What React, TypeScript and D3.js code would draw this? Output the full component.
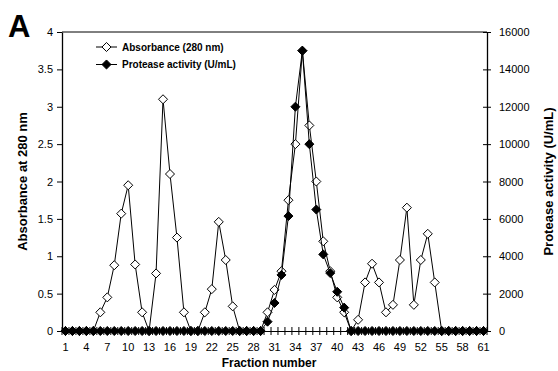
import React, { useEffect, useRef } from "react";
import * as d3 from "d3";

const fractions = d3.range(1, 62);

// absorbance at 280 nm, fractions 1..61
const absorbance = [
  0, 0, 0, 0, 0, 0.25, 0.45, 0.88, 1.57, 1.95,
  0.89, 0.25, 0, 0.77, 3.1, 2.1, 1.25, 0.25, 0, 0,
  0.25, 0.56, 1.46, 0.95, 0.33, 0, 0, 0, 0, 0.25,
  0.55, 0.8, 1.75, 2.5, 3.75, 2.75, 2.0, 1.2, 0.8, 0.45,
  0.25, 0, 0.15, 0.65, 0.9, 0.65, 0.25, 0.35, 0.95, 1.65,
  0.35, 0.95, 1.3, 0.65, 0, 0, 0, 0, 0, 0,
  0,
];

// protease activity (U/mL), fractions 1..61
const protease = [
  0, 0, 0, 0, 0, 0, 0, 0, 0, 0,
  0, 0, 0, 0, 0, 0, 0, 0, 0, 0,
  0, 0, 0, 0, 0, 0, 0, 0, 0, 500,
  1500, 3000, 6150, 12000, 15000, 10000, 6500, 4100, 3100, 2100,
  1250, 0, 0, 0, 0, 0, 0, 0, 0, 0,
  0, 0, 0, 0, 0, 0, 0, 0, 0, 0,
  0,
];

const leftTicks = [0, 0.5, 1, 1.5, 2, 2.5, 3, 3.5, 4];
const rightTicks = [0, 2000, 4000, 6000, 8000, 10000, 12000, 14000, 16000];
const xLabels = d3.range(1, 62, 3);

const FONT = "'Liberation Sans', Arial, sans-serif";

export default function App() {
  const ref = useRef<SVGSVGElement>(null);

  useEffect(() => {
    document.body.style.margin = "0";
    const svg = d3.select(ref.current);
    svg.selectAll("*").remove();

    const left = 62,
      right = 487,
      top = 32,
      bottom = 331;

    const x = d3
      .scaleBand<number>()
      .domain(fractions)
      .range([left, right])
      .padding(0);
    const cx = (f: number) => (x(f) as number) + x.bandwidth() / 2;
    const yL = d3.scaleLinear().domain([0, 4]).range([bottom, top]);
    const yR = d3.scaleLinear().domain([0, 16000]).range([bottom, top]);

    // frame top line
    svg
      .append("line")
      .attr("x1", left)
      .attr("x2", right)
      .attr("y1", top)
      .attr("y2", top)
      .attr("stroke", "#000")
      .attr("stroke-width", 1);

    // left axis
    const gL = svg
      .append("g")
      .attr("transform", `translate(${left},0)`)
      .call(
        d3
          .axisLeft(yL)
          .tickValues(leftTicks)
          .tickSize(5)
          .tickSizeOuter(0)
          .tickPadding(4)
          .tickFormat((d) => String(d))
      );
    gL.selectAll("text").style("font-size", "11px").style("font-family", FONT).attr("fill", "#000");

    // right axis, ticks cross the line
    const gR = svg
      .append("g")
      .attr("transform", `translate(${right},0)`)
      .call(
        d3
          .axisRight(yR)
          .tickValues(rightTicks)
          .tickSize(4)
          .tickSizeOuter(0)
          .tickPadding(8)
          .tickFormat((d) => String(d))
      );
    gR.selectAll(".tick line").attr("x1", -4);
    gR.selectAll("text").style("font-size", "11px").style("font-family", FONT).attr("fill", "#000");

    // x axis
    const gX = svg
      .append("g")
      .attr("transform", `translate(0,${bottom})`)
      .call(
        d3
          .axisBottom(x)
          .tickValues(xLabels)
          .tickSize(0)
          .tickSizeOuter(0)
          .tickPadding(12)
      );
    gX.selectAll("text").style("font-size", "11px").style("font-family", FONT).attr("fill", "#000");
    gX.select(".domain").attr("stroke-width", 1);

    const bounds = fractions.map((f) => x(f) as number).concat([right]);
    svg
      .append("g")
      .selectAll("line")
      .data(bounds)
      .join("line")
      .attr("x1", (d) => d)
      .attr("x2", (d) => d)
      .attr("y1", bottom - 4)
      .attr("y2", bottom + 4)
      .attr("stroke", "#000");

    gL.select(".domain").attr("stroke-width", 1.3);
    gR.select(".domain").attr("stroke-width", 1.3);

    const diamond = d3.symbol().type(d3.symbolDiamond2).size(52);

    const drawSeries = (vals: number[], y: d3.ScaleLinear<number, number>, fill: string) => {
      const line = d3
        .line<number>()
        .x((_, i) => cx(fractions[i]))
        .y((d) => y(d));
      const g = svg.append("g");
      g.append("path")
        .attr("d", line(vals))
        .attr("fill", "none")
        .attr("stroke", "#000")
        .attr("stroke-width", 1);
      g.selectAll("path.pt")
        .data(vals)
        .join("path")
        .attr("class", "pt")
        .attr("d", diamond)
        .attr("transform", (d, i) => `translate(${cx(fractions[i])},${y(d)})`)
        .attr("fill", fill)
        .attr("stroke", "#000")
        .attr("stroke-width", 1);
    };

    drawSeries(absorbance, yL, "#fff");
    drawSeries(protease, yR, "#000");

    // legend
    const legend = [
      { label: "Absorbance (280 nm)", fill: "#fff" },
      { label: "Protease activity (U/mL)", fill: "#000" },
    ];
    legend.forEach((l, i) => {
      const ly = 47 + i * 17.5;
      svg
        .append("line")
        .attr("x1", 96)
        .attr("x2", 117)
        .attr("y1", ly)
        .attr("y2", ly)
        .attr("stroke", "#000");
      svg
        .append("path")
        .attr("d", diamond)
        .attr("transform", `translate(106.5,${ly})`)
        .attr("fill", l.fill)
        .attr("stroke", "#000");
      svg
        .append("text")
        .attr("x", 122)
        .attr("y", ly + 3.5)
        .style("font-family", FONT)
        .style("font-size", "10px")
        .style("font-weight", "bold")
        .text(l.label);
    });

    // titles
    svg
      .append("text")
      .attr("x", 8)
      .attr("y", 37)
      .style("font-family", FONT)
      .style("font-size", "31px")
      .style("font-weight", "bold")
      .text("A");

    svg
      .append("text")
      .attr("transform", `translate(27,${(top + bottom) / 2}) rotate(-90)`)
      .attr("text-anchor", "middle")
      .style("font-family", FONT)
      .style("font-size", "13px")
      .style("font-weight", "bold")
      .text("Absorbance at 280 nm");

    svg
      .append("text")
      .attr("transform", `translate(553,${(top + bottom) / 2}) rotate(-90)`)
      .attr("text-anchor", "middle")
      .style("font-family", FONT)
      .style("font-size", "13px")
      .style("font-weight", "bold")
      .text("Protease activity (U/mL)");

    svg
      .append("text")
      .attr("x", 269)
      .attr("y", 367)
      .attr("text-anchor", "middle")
      .style("font-family", FONT)
      .style("font-size", "12px")
      .style("font-weight", "bold")
      .text("Fraction number");
  }, []);

  return <svg ref={ref} width={558} height={371} style={{ display: "block", background: "#fff" }} />;
}
